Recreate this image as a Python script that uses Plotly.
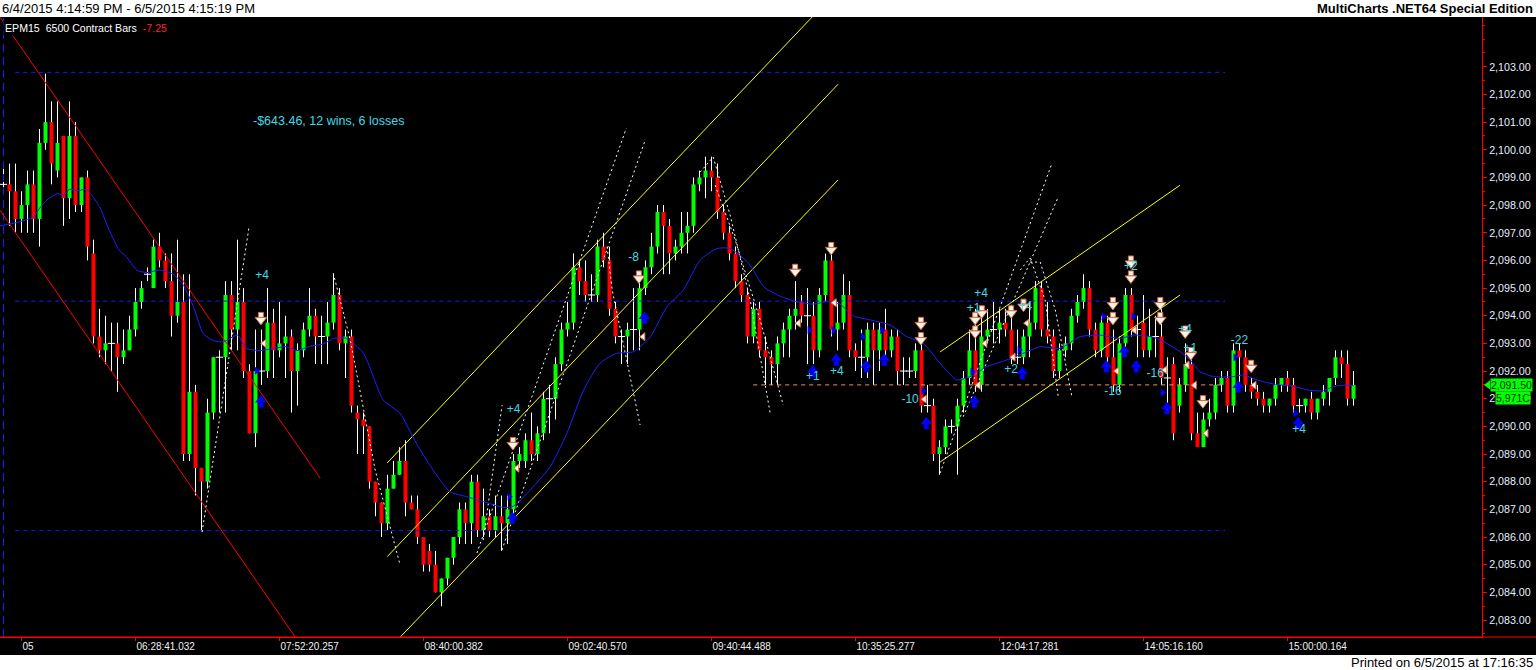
import plotly.graph_objects as go

# ---------------- data ----------------
OPEN = [
 2098.75, 2098.75, 2098.5, 2097.5, 2098.0, 2098.75, 2097.5, 2100.25, 2101.0, 2099.25,
 2100.5, 2098.25, 2100.5, 2098.0, 2099.0, 2096.25, 2093.25, 2092.75, 2093.0, 2093.0,
 2092.5, 2092.75, 2093.5, 2094.5, 2095.5, 2095.0, 2096.5, 2096.0, 2095.25, 2094.0,
 2094.5, 2089.0, 2091.25, 2088.5, 2088.0, 2090.5, 2092.5, 2092.5, 2094.75, 2093.5,
 2094.5, 2092.0, 2089.75, 2092.0, 2092.0, 2093.75, 2092.75, 2093.0, 2093.25, 2092.0,
 2092.75, 2093.5, 2094.0, 2093.25, 2093.25, 2093.75, 2094.75, 2093.0, 2093.25, 2090.5,
 2090.25, 2090.0, 2088.0, 2087.25, 2086.5, 2087.75, 2088.25, 2088.75, 2087.25, 2087.0,
 2086.0, 2085.5, 2085.0, 2084.0, 2084.5, 2085.25, 2086.0, 2087.0, 2086.5, 2088.0,
 2086.25, 2086.75, 2086.25, 2086.75, 2086.5, 2087.0, 2088.75, 2088.75, 2089.5, 2089.0,
 2089.75, 2091.0, 2091.0, 2092.25, 2093.5, 2093.75, 2095.75, 2095.25, 2094.75, 2094.75,
 2096.5, 2096.0, 2094.25, 2093.25, 2093.25, 2093.5, 2093.5, 2095.0, 2095.75, 2096.5,
 2097.75, 2097.25, 2096.25, 2096.5, 2097.0, 2097.25, 2098.75, 2099.0, 2099.25, 2099.0,
 2097.75, 2097.0, 2096.25, 2095.25, 2094.75, 2093.25, 2094.25, 2092.75, 2092.5, 2092.25,
 2093.0, 2093.5, 2094.0, 2094.5, 2094.0, 2094.0, 2092.75, 2094.75, 2096.0, 2093.5,
 2093.75, 2094.75, 2092.75, 2092.5, 2092.5, 2093.5, 2092.75, 2093.5, 2092.75, 2093.25,
 2092.0, 2092.0, 2092.0, 2092.75, 2090.75, 2090.75, 2089.0, 2089.25, 2090.0, 2090.0,
 2090.75, 2091.75, 2092.75, 2091.5, 2093.25, 2093.5, 2093.5, 2093.75, 2093.5, 2092.5,
 2092.5, 2093.25, 2093.75, 2095.0, 2093.5, 2093.25, 2092.0, 2092.75, 2093.0, 2094.0,
 2094.5, 2095.0, 2093.5, 2092.75, 2093.75, 2092.5, 2091.5, 2093.0, 2094.75, 2093.5,
 2093.75, 2092.75, 2093.25, 2093.25, 2091.75, 2092.25, 2090.75, 2091.5, 2092.25, 2089.75,
 2089.25, 2090.25, 2090.5, 2091.5, 2091.75, 2090.75, 2092.75, 2092.5, 2091.5, 2091.25,
 2091.0, 2090.75, 2091.0, 2091.5, 2091.75, 2091.5, 2090.75, 2090.75, 2091.0, 2090.5,
 2091.0, 2091.25, 2091.75, 2092.5, 2092.25, 2091.0]
HIGH = [
 2099.5, 2099.5, 2099.5, 2098.5, 2099.25, 2099.25, 2100.75, 2102.75, 2101.75, 2101.75,
 2100.5, 2101.75, 2101.0, 2099.0, 2099.25, 2096.75, 2094.25, 2094.0, 2093.75, 2093.75,
 2093.5, 2094.0, 2095.0, 2095.25, 2095.75, 2096.75, 2097.0, 2096.25, 2096.25, 2096.75,
 2095.5, 2095.5, 2091.5, 2088.5, 2091.0, 2092.5, 2092.75, 2095.25, 2095.25, 2096.75,
 2095.0, 2092.25, 2093.5, 2093.5, 2095.0, 2094.25, 2094.5, 2094.0, 2093.5, 2093.0,
 2093.75, 2095.0, 2094.25, 2094.0, 2094.5, 2095.5, 2095.0, 2093.5, 2093.5, 2090.75,
 2090.5, 2090.0, 2088.0, 2087.25, 2088.25, 2088.75, 2089.25, 2089.5, 2087.5, 2087.5,
 2086.0, 2085.75, 2085.5, 2084.5, 2085.25, 2086.0, 2087.25, 2087.25, 2088.25, 2088.25,
 2087.75, 2087.0, 2087.5, 2087.5, 2087.5, 2089.0, 2089.25, 2089.75, 2090.5, 2090.0,
 2091.25, 2091.5, 2092.5, 2093.75, 2094.5, 2096.25, 2096.0, 2096.0, 2095.5, 2096.75,
 2097.0, 2096.5, 2094.5, 2093.5, 2093.75, 2095.0, 2095.25, 2096.0, 2097.0, 2098.0,
 2098.0, 2097.5, 2096.75, 2097.75, 2097.75, 2099.0, 2099.25, 2099.75, 2099.75, 2099.5,
 2098.0, 2097.25, 2096.5, 2095.5, 2095.0, 2094.5, 2094.5, 2093.25, 2092.75, 2093.25,
 2093.75, 2094.25, 2095.25, 2094.75, 2095.0, 2094.5, 2095.0, 2096.25, 2096.25, 2094.5,
 2095.5, 2095.25, 2093.0, 2093.5, 2093.75, 2093.75, 2093.75, 2094.25, 2093.5, 2093.5,
 2092.5, 2092.5, 2093.0, 2093.0, 2091.5, 2091.0, 2089.5, 2090.25, 2090.25, 2091.0,
 2092.0, 2093.5, 2094.25, 2094.25, 2094.25, 2094.5, 2094.25, 2094.25, 2094.25, 2093.5,
 2093.5, 2094.5, 2095.25, 2095.25, 2094.5, 2093.5, 2093.0, 2093.25, 2094.25, 2094.75,
 2095.5, 2095.25, 2093.75, 2094.0, 2094.0, 2093.5, 2093.25, 2095.0, 2095.0, 2094.0,
 2094.75, 2094.25, 2094.0, 2094.5, 2092.5, 2092.5, 2091.75, 2093.0, 2092.5, 2090.5,
 2090.5, 2091.0, 2091.75, 2092.0, 2092.0, 2093.0, 2093.0, 2092.75, 2091.75, 2091.5,
 2091.25, 2091.0, 2091.75, 2091.75, 2092.0, 2091.75, 2091.0, 2091.0, 2091.25, 2091.0,
 2091.5, 2091.75, 2092.75, 2092.75, 2092.75, 2092.0]
LOW = [
 2098.5, 2097.25, 2097.0, 2097.0, 2097.0, 2097.0, 2096.5, 2100.0, 2098.75, 2099.0,
 2097.25, 2097.5, 2097.75, 2097.75, 2096.0, 2093.0, 2092.5, 2092.25, 2092.0, 2091.25,
 2092.25, 2092.75, 2093.25, 2094.25, 2095.25, 2095.0, 2095.75, 2095.0, 2093.25, 2093.75,
 2088.75, 2088.75, 2087.5, 2086.25, 2087.75, 2090.25, 2090.5, 2090.5, 2092.75, 2092.75,
 2091.75, 2089.75, 2089.25, 2091.5, 2091.75, 2091.75, 2092.5, 2091.75, 2090.5, 2090.75,
 2092.5, 2093.25, 2092.25, 2092.25, 2092.25, 2093.5, 2092.75, 2091.75, 2090.5, 2089.0,
 2089.0, 2087.75, 2086.75, 2086.0, 2086.25, 2087.75, 2088.25, 2086.75, 2087.0, 2085.75,
 2084.75, 2084.75, 2084.0, 2083.5, 2084.25, 2085.0, 2085.75, 2085.75, 2085.75, 2086.0,
 2086.0, 2086.0, 2086.0, 2085.5, 2085.75, 2086.75, 2088.5, 2088.5, 2088.75, 2088.75,
 2089.5, 2089.75, 2090.25, 2092.0, 2093.25, 2093.5, 2094.75, 2094.5, 2094.5, 2094.5,
 2095.75, 2094.0, 2093.0, 2092.25, 2092.25, 2092.75, 2092.75, 2094.75, 2095.5, 2096.25,
 2095.5, 2095.5, 2096.0, 2096.25, 2096.25, 2097.0, 2098.5, 2098.25, 2098.5, 2097.5,
 2096.75, 2096.0, 2095.0, 2094.5, 2093.0, 2093.0, 2092.5, 2091.5, 2091.5, 2091.5,
 2092.5, 2092.5, 2093.5, 2093.75, 2092.25, 2092.25, 2092.5, 2094.5, 2093.25, 2092.75,
 2093.5, 2092.5, 2092.0, 2091.75, 2091.75, 2091.5, 2092.0, 2092.5, 2092.5, 2091.5,
 2091.5, 2091.75, 2091.75, 2090.5, 2090.5, 2088.75, 2088.25, 2089.0, 2089.75, 2088.25,
 2090.5, 2091.5, 2091.25, 2091.25, 2093.0, 2093.0, 2093.0, 2093.25, 2092.25, 2092.25,
 2092.25, 2092.5, 2093.5, 2093.25, 2093.0, 2091.75, 2091.75, 2092.5, 2092.75, 2093.75,
 2094.25, 2093.25, 2092.5, 2092.5, 2092.25, 2091.25, 2091.25, 2092.75, 2093.25, 2092.5,
 2092.5, 2092.5, 2092.5, 2091.5, 2090.5, 2089.5, 2090.5, 2091.25, 2089.5, 2089.25,
 2089.25, 2090.0, 2090.25, 2091.25, 2090.5, 2090.5, 2091.5, 2091.25, 2091.0, 2090.75,
 2090.5, 2090.5, 2090.75, 2091.25, 2091.25, 2090.5, 2090.5, 2090.5, 2090.25, 2090.25,
 2090.75, 2090.75, 2091.5, 2091.75, 2090.75, 2090.75]
CLOSE = [
 2098.75, 2098.5, 2097.5, 2098.0, 2098.75, 2097.5, 2100.25, 2101.0, 2099.5, 2100.25,
 2098.25, 2100.5, 2098.0, 2099.0, 2096.5, 2093.25, 2092.75, 2093.0, 2093.0, 2092.5,
 2092.75, 2093.5, 2094.5, 2095.0, 2095.5, 2096.5, 2096.0, 2095.25, 2094.0, 2094.5,
 2089.0, 2091.25, 2088.5, 2088.0, 2090.5, 2092.5, 2092.5, 2094.75, 2093.5, 2094.5,
 2092.0, 2089.75, 2092.0, 2092.0, 2093.75, 2092.75, 2093.0, 2093.25, 2092.0, 2092.75,
 2093.5, 2094.0, 2093.25, 2093.25, 2093.75, 2094.75, 2093.0, 2093.25, 2090.75, 2090.25,
 2090.0, 2088.0, 2087.25, 2086.5, 2087.75, 2088.25, 2088.75, 2087.25, 2087.0, 2086.0,
 2085.0, 2085.0, 2084.0, 2084.5, 2085.25, 2086.0, 2087.0, 2086.5, 2088.0, 2086.25,
 2086.75, 2086.25, 2086.75, 2086.5, 2087.0, 2088.75, 2089.0, 2089.5, 2089.0, 2089.75,
 2091.0, 2091.0, 2092.25, 2093.5, 2093.75, 2095.75, 2095.25, 2094.75, 2094.75, 2096.5,
 2096.0, 2094.25, 2093.25, 2093.25, 2093.5, 2093.5, 2095.0, 2095.75, 2096.5, 2097.75,
 2097.25, 2096.25, 2096.5, 2097.0, 2097.25, 2098.75, 2099.0, 2099.25, 2099.0, 2097.75,
 2097.0, 2096.25, 2095.25, 2094.75, 2093.25, 2094.25, 2092.75, 2092.5, 2092.25, 2093.0,
 2093.5, 2094.0, 2094.25, 2094.0, 2094.0, 2092.75, 2094.75, 2096.0, 2093.5, 2093.75,
 2094.75, 2092.75, 2092.5, 2092.5, 2093.5, 2092.75, 2093.5, 2092.75, 2093.25, 2092.0,
 2092.0, 2092.0, 2092.75, 2090.75, 2090.75, 2089.0, 2089.25, 2090.0, 2090.0, 2090.75,
 2091.75, 2092.75, 2091.5, 2093.25, 2093.5, 2093.5, 2093.75, 2093.5, 2092.5, 2092.5,
 2093.25, 2093.75, 2095.0, 2093.5, 2093.25, 2092.0, 2092.75, 2093.0, 2094.0, 2094.5,
 2095.0, 2093.5, 2092.75, 2093.75, 2092.5, 2091.5, 2093.0, 2094.75, 2093.5, 2093.5,
 2092.75, 2093.25, 2093.25, 2091.75, 2091.75, 2089.75, 2091.5, 2092.25, 2089.75, 2089.25,
 2090.25, 2090.5, 2091.5, 2091.75, 2090.75, 2092.75, 2092.5, 2091.5, 2091.25, 2091.0,
 2090.75, 2091.0, 2091.5, 2091.75, 2091.5, 2090.75, 2090.75, 2091.0, 2090.5, 2091.0,
 2091.25, 2091.75, 2092.5, 2092.25, 2091.0, 2091.5]

# moving average (blue), read at sample bars
MA_X = [-0.6, 2.8, 5, 6, 7.2, 9, 10, 11, 12.3, 13.7, 14.5, 16, 17.6, 19.3, 20.5, 22.2, 23.9,
        26, 28.3, 30, 31.7, 33.3, 35, 36.7, 39, 40.5, 42.8, 45, 47.2, 48.9, 51.1, 53.3, 55,
        57.2, 60, 63.3, 66.1, 68.8, 71.6, 74.4, 77.2, 80, 83.3, 85, 87.8, 91.1, 93.9, 96.7,
        99.4, 102.2, 105, 107.8, 110.6, 113.3, 116.1, 118.9, 121.1, 124.2, 126.7, 129.4,
        132.2, 135, 137.2, 139.4, 141.7, 144.4, 147.8, 150.6, 153.3, 156.1, 158.9, 161.1,
        163.9, 167.2, 170.6, 172.8, 176.1, 179.4, 182.8, 186.1, 188.3, 191.7, 193.9, 196.1,
        197.8, 199.4, 201.7, 205, 206.7, 208.9, 211.7, 215, 217.8, 220, 221.7, 223.9, 225]
MA_Y = [2097.25, 2097.4, 2097.58, 2097.88, 2098.18, 2098.42, 2098.36, 2098.57, 2098.52,
        2098.57, 2098.42, 2097.94, 2097.1, 2096.37, 2096.13, 2095.65, 2095.56, 2095.65,
        2095.5, 2095.1, 2094.3, 2093.35, 2093.1, 2093.06, 2093.3, 2092.82, 2092.74, 2092.82,
        2092.88, 2092.74, 2092.9, 2092.98, 2093.18, 2093.18, 2092.64, 2090.95, 2090.47,
        2089.39, 2088.42, 2087.64, 2087.46, 2087.28, 2087.07, 2087.12, 2087.7, 2088.54,
        2089.75, 2091.32, 2092.28, 2092.64, 2092.7, 2093.24, 2094.33, 2094.93, 2096.01,
        2096.43, 2096.43, 2095.9, 2095.05, 2094.71, 2094.51, 2094.42, 2094.51, 2094.42,
        2093.99, 2093.85, 2093.66, 2093.24, 2093.0, 2092.28, 2091.68, 2091.8, 2092.16,
        2092.4, 2092.7, 2092.88, 2092.82, 2093.24, 2093.3, 2093.18, 2093.3, 2093.22, 2093.0,
        2092.7, 2092.4, 2091.98, 2091.8, 2091.8, 2091.86, 2091.68, 2091.53, 2091.44, 2091.3,
        2091.29, 2091.44, 2091.5, 2091.47]

# horizontal levels
BLUE_LEVELS = [2102.8, 2094.53, 2086.23]
LEVEL_START = 1.95
LEVEL_END = 203.6
ORANGE_LEVEL = 2091.5
ORANGE_START = 124.95
SESSION_BREAK = 0.0

# red down channel (bar, price)
RED_UPPER = [(-0.6, 2104.8), (52.78, 2088.13)]
RED_LOWER = [(-0.6, 2097.82), (48.6, 2082.39)]

# yellow channels
YEL_1_UPPER = [(63.95, 2088.68), (134.78, 2104.8)]
YEL_1_MID = [(63.95, 2085.29), (139.1, 2102.37)]
YEL_1_LOWER = [(66.15, 2082.39), (139.1, 2098.91)]
YEL_2_UPPER = [(156.1, 2092.69), (196.1, 2098.72)]
YEL_2_LOWER = [(156.1, 2088.71), (196.1, 2094.75)]

# white dotted swing lines
DOT_LINES = [
    [(33.1, 2086.18), (36.45, 2090.95), (40.95, 2097.24)],
    [(54.95, 2095.54), (57.8, 2093.12), (61.95, 2088.42), (66.1, 2084.99)],
    [(79.95, 2085.89), (83.1, 2090.77)],
    [(78.9, 2085.42), (103.8, 2100.78)],
    [(83.07, 2085.53), (106.95, 2100.35)],
    [(100.6, 2096.49), (101.45, 2094.93), (106.1, 2090.05)],
    [(116.1, 2099.19), (118.28, 2099.74), (121.1, 2097.64), (124.45, 2094.57), (127.78, 2090.48)],
    [(118.6, 2098.72), (121.95, 2096.74), (126.1, 2093.85), (129.95, 2090.77)],
    [(156.1, 2088.31), (174.73, 2099.51)],
    [(159.95, 2090.35), (175.8, 2098.3)],
    [(169.45, 2095.65), (171.1, 2096.09), (173.6, 2094.57), (175.8, 2091.06)],
    [(171.1, 2095.94), (172.78, 2095.94), (175.3, 2094.21), (178.1, 2091.03)],
]

# trade markers
SELL_X = [42.9, 84.9, 105.9, 131.95, 137.95, 152.9, 152.9, 161.95, 163.05, 161.95, 167.95, 170.0,
          184.9, 184.9, 187.9, 187.9, 192.8, 192.8, 196.95, 197.9, 199.9, 207.95]
SELL_Y = [2093.85, 2089.33, 2095.35, 2095.59, 2096.38, 2093.67, 2093.12, 2093.85, 2094.09, 2093.36,
          2094.09, 2094.33, 2094.39, 2093.85, 2095.89, 2095.35, 2094.39, 2093.85, 2093.36, 2092.58,
          2090.84, 2092.12]
BUY_X = [42.9, 84.8, 106.8, 134.9, 138.8, 143.8, 146.8, 153.8, 161.8, 169.8, 183.8, 186.8, 188.8,
         193.9, 205.8, 215.8]
BUY_Y = [2090.95, 2086.74, 2093.97, 2092.04, 2092.46, 2092.22, 2092.46, 2090.17, 2090.95, 2091.98,
         2092.22, 2092.76, 2092.22, 2090.71, 2091.49, 2090.17]
EXIT_L_X = [43.45, 85.6, 106.6, 132.5, 138.5, 153.5, 163.6, 162.5, 168.3, 170.6, 185.6, 188.5,
            193.6, 197.3, 198.5, 200.45, 208.45]
EXIT_L_Y = [2093.0, 2088.49, 2093.24, 2093.73, 2094.47, 2090.98, 2093.0, 2091.49, 2092.5, 2093.73,
            2092.0, 2093.48, 2092.04, 2092.22, 2091.49, 2089.75, 2091.49]
EXIT_R_X = [42.2, 84.3, 134.3, 138.3, 143.2, 146.4, 153.3, 161.45, 169.3, 183.3, 188.3, 193.2,
            205.3, 215.3]
EXIT_R_Y = [2092.01, 2087.46, 2093.48, 2093.48, 2093.24, 2093.48, 2091.29, 2091.98, 2092.76,
            2093.97, 2093.97, 2091.22, 2092.5, 2090.47]
LABEL_TEXT = ["+4", "+4", "-8", "+1", "+4", "-10", "+4", "+1", "+2", "+4", "-16", "+2", "-16",
              "+4", "+1", "-22", "+4"]
LABEL_X = [43.1, 85.0, 105.0, 134.9, 138.9, 151.1, 162.95, 161.7, 167.95, 170.3, 184.9, 187.9,
           191.95, 196.95, 197.8, 206.0, 215.95]
LABEL_Y = [2095.45, 2090.59, 2096.08, 2091.78, 2091.98, 2090.95, 2094.79, 2094.23, 2092.04, 2094.33,
           2091.25, 2095.77, 2091.89, 2093.48, 2092.79, 2093.1, 2089.87]

TICK_BARS = [3, 22, 46, 70, 94, 118, 142, 166, 190, 214]
TICK_LABELS = ["05", "06:28:41.032", "07:52:20.257", "08:40:00.382", "09:02:40.570",
               "09:40:44.488", "10:35:25.277", "12:04:17.281", "14:05:16.160", "15:00:00.164"]
Y_TICKS = [2083, 2084, 2085, 2086, 2087, 2088, 2089, 2090, 2091, 2092, 2093,
           2094, 2095, 2096, 2097, 2098, 2099, 2100, 2101, 2102, 2103]

LAST_PRICE = 2091.50
VOLUME_LABEL = "5,971C"
VOLUME_LEVEL = 2091.03

# ---------------- style ----------------
FONT = "Liberation Sans, Arial, sans-serif"
GREEN = "#00ff00"
RED = "#ff0000"
CYAN = "#40d8e8"
STEM = 0.18
Y_MIN, Y_MAX = 2082.386, 2104.8
X_MIN, X_MAX = -0.5833, 246.4167

fig = go.Figure()

def seg_trace(pts_list, color, width=1, dash=None, shape="linear"):
    xs, ys = [], []
    for pts in pts_list:
        for (a, b) in pts:
            xs.append(a); ys.append(b)
        xs.append(None); ys.append(None)
    fig.add_trace(go.Scatter(x=xs, y=ys, mode="lines", hoverinfo="skip",
                             line=dict(color=color, width=width, dash=dash, shape=shape)))

N = len(CLOSE)
# wicks
wx, wy = [], []
for i in range(N):
    wx += [i, i, None]
    wy += [LOW[i], HIGH[i], None]
fig.add_trace(go.Scatter(x=wx, y=wy, mode="lines", hoverinfo="skip",
                         line=dict(color="#ffffff", width=1)))
# bodies
gx, gy, rx, ry, dx, dy = [], [], [], [], [], []
for i in range(N):
    if CLOSE[i] > OPEN[i]:
        gx += [i, i, None]; gy += [OPEN[i], CLOSE[i], None]
    elif CLOSE[i] < OPEN[i]:
        rx += [i, i, None]; ry += [OPEN[i], CLOSE[i], None]
    else:
        dx.append(i); dy.append(CLOSE[i])
fig.add_trace(go.Scatter(x=gx, y=gy, mode="lines", hoverinfo="skip", line=dict(color=GREEN, width=4)))
fig.add_trace(go.Scatter(x=rx, y=ry, mode="lines", hoverinfo="skip", line=dict(color=RED, width=4)))
fig.add_trace(go.Scatter(x=dx, y=dy, mode="markers", hoverinfo="skip",
                         marker=dict(symbol="line-ew", size=5, line=dict(color="#ffffff", width=1))))

# levels
seg_trace([[(LEVEL_START, v), (LEVEL_END, v)] for v in BLUE_LEVELS], "#1a1aff", 1, "4px,4px")
seg_trace([[(ORANGE_START, ORANGE_LEVEL), (LEVEL_END, ORANGE_LEVEL)]], "#ff9060", 1, "4px,4px")
seg_trace([[(SESSION_BREAK, Y_MIN), (SESSION_BREAK, Y_MAX)]], "#1a1aff", 1, "8px,5px")

# channels
seg_trace([RED_UPPER, RED_LOWER], RED, 1)
seg_trace([YEL_1_UPPER, YEL_1_MID, YEL_1_LOWER, YEL_2_UPPER, YEL_2_LOWER], "#ffff00", 1)
seg_trace(DOT_LINES, "#ffffff", 1, "2px,3px")

# moving average
fig.add_trace(go.Scatter(x=MA_X, y=MA_Y, mode="lines", hoverinfo="skip",
                         line=dict(color="#2020ff", width=1, shape="spline", smoothing=0.6)))

# markers
fig.add_trace(go.Scatter(x=SELL_X, y=[v + STEM for v in SELL_Y], mode="markers", hoverinfo="skip",
                         marker=dict(symbol="square", size=5, color="#fff3ec",
                                     line=dict(color="#d07040", width=1))))
fig.add_trace(go.Scatter(x=SELL_X, y=SELL_Y, mode="markers", hoverinfo="skip",
                         marker=dict(symbol="triangle-down", size=10, color="#fff3ec",
                                     line=dict(color="#d07040", width=1))))
fig.add_trace(go.Scatter(x=BUY_X, y=[v - STEM for v in BUY_Y], mode="markers", hoverinfo="skip",
                         marker=dict(symbol="square", size=5, color="#0000ff", line=dict(width=0))))
fig.add_trace(go.Scatter(x=BUY_X, y=BUY_Y, mode="markers", hoverinfo="skip",
                         marker=dict(symbol="triangle-up", size=10, color="#0000ff", line=dict(width=0))))
fig.add_trace(go.Scatter(x=EXIT_L_X, y=EXIT_L_Y, mode="markers", hoverinfo="skip",
                         marker=dict(symbol="triangle-left", size=7, color="#fff3ec",
                                     line=dict(color="#d07040", width=1))))
fig.add_trace(go.Scatter(x=EXIT_R_X, y=EXIT_R_Y, mode="markers", hoverinfo="skip",
                         marker=dict(symbol="triangle-right", size=7, color="#0000ff", line=dict(width=0))))
fig.add_trace(go.Scatter(x=LABEL_X, y=LABEL_Y, mode="text", text=LABEL_TEXT, hoverinfo="skip",
                         textfont=dict(family=FONT, size=12, color=CYAN)))

PW = 1482.0
PH = 620.0

fig.update_layout(
    width=1536, height=670,
    margin=dict(l=0, r=54, t=17, b=33, pad=0),
    paper_bgcolor="#000000", plot_bgcolor="#000000",
    showlegend=False,
    xaxis=dict(range=[X_MIN, X_MAX], showgrid=False, zeroline=False,
               tickmode="array", tickvals=TICK_BARS, ticktext=TICK_LABELS,
               ticks="outside", ticklen=3, tickcolor=RED, tickwidth=1,
               ticklabelposition="outside right",
               tickfont=dict(family=FONT, size=10, color="#f0f0f0"),
               showline=True, linecolor=RED, linewidth=1),
    yaxis=dict(range=[Y_MIN, Y_MAX], side="right", showgrid=False, zeroline=False,
               tickmode="array", tickvals=Y_TICKS, tickformat=",.2f",
               ticks="outside", ticklen=4, tickcolor=RED, tickwidth=1,
               minor=dict(dtick=0.5, tick0=2083, ticks="outside", ticklen=2, tickcolor=RED),
               tickfont=dict(family=FONT, size=10.7, color="#e6ecff"),
               showline=True, linecolor=RED, linewidth=1),
    shapes=[
        dict(type="rect", xref="paper", yref="paper", x0=-0.01, x1=1.06, y0=1.0, y1=1.06,
             fillcolor="#ffffff", line=dict(width=0), layer="above"),
        dict(type="rect", xref="paper", yref="paper", x0=-0.01, x1=1.06,
             y0=-0.08, y1=-(655 - 637) / PH, fillcolor="#ffffff", line=dict(width=0), layer="above"),
        dict(type="line", xref="paper", yref="paper", x0=0, x1=1536 / PW, y0=0, y1=0,
             line=dict(color=RED, width=1)),
        dict(type="path", xref="paper", yref="y",
             path="M %f %f L %f %f L %f %f Z" % (1484 / PW, LAST_PRICE, 1490 / PW, LAST_PRICE + 0.17,
                                                 1490 / PW, LAST_PRICE - 0.17),
             fillcolor=GREEN, line=dict(width=0)),
    ],
    annotations=[
        dict(xref="paper", yref="paper", x=0, y=(637 - 8) / PH, xanchor="left", yanchor="middle",
             text="6/4/2015 4:14:59 PM - 6/5/2015 4:15:19 PM", showarrow=False,
             font=dict(family=FONT, size=13, color="#000000")),
        dict(xref="paper", yref="paper", x=1535 / PW, y=(637 - 8) / PH, xanchor="right", yanchor="middle",
             text="<b>MultiCharts .NET64 Special Edition</b>", showarrow=False,
             font=dict(family=FONT, size=13, color="#000000")),
        dict(xref="paper", yref="paper", x=1535 / PW, y=(637 - 662) / PH, xanchor="right", yanchor="middle",
             text="Printed on 6/5/2015 at 17:16:35", showarrow=False,
             font=dict(family=FONT, size=13, color="#000000")),
        dict(xref="paper", yref="paper", x=3 / PW, y=(637 - 28) / PH, xanchor="left", yanchor="middle",
             text="EPM15\u00a0\u00a06500 Contract Bars\u00a0\u00a0<span style='color:#ff2020'>-7.25</span>",
             showarrow=False, bgcolor="#000000", borderpad=1,
             font=dict(family=FONT, size=10.6, color="#ffffff")),
        dict(xref="paper", yref="paper", x=251 / PW, y=(637 - 121) / PH, xanchor="left", yanchor="middle",
             text="-$643.46, 12 wins, 6 losses", showarrow=False,
             font=dict(family=FONT, size=12.5, color=CYAN)),
        dict(xref="paper", yref="y", x=1490 / PW, y=LAST_PRICE, xanchor="left", yanchor="middle",
             text="{:,.2f}".format(LAST_PRICE), showarrow=False, bgcolor=GREEN, borderpad=0,
             font=dict(family=FONT, size=10.5, color="#003000")),
        dict(xref="paper", yref="y", x=1495 / PW, y=VOLUME_LEVEL, xanchor="left", yanchor="middle",
             text=VOLUME_LABEL, showarrow=False, bgcolor=GREEN, borderpad=0,
             font=dict(family=FONT, size=10.5, color="#003000")),
    ],
)

fig.write_html("out.html", config={"displayModeBar": False},
               post_script="document.body.style.margin='0';document.body.style.overflow='hidden';")
